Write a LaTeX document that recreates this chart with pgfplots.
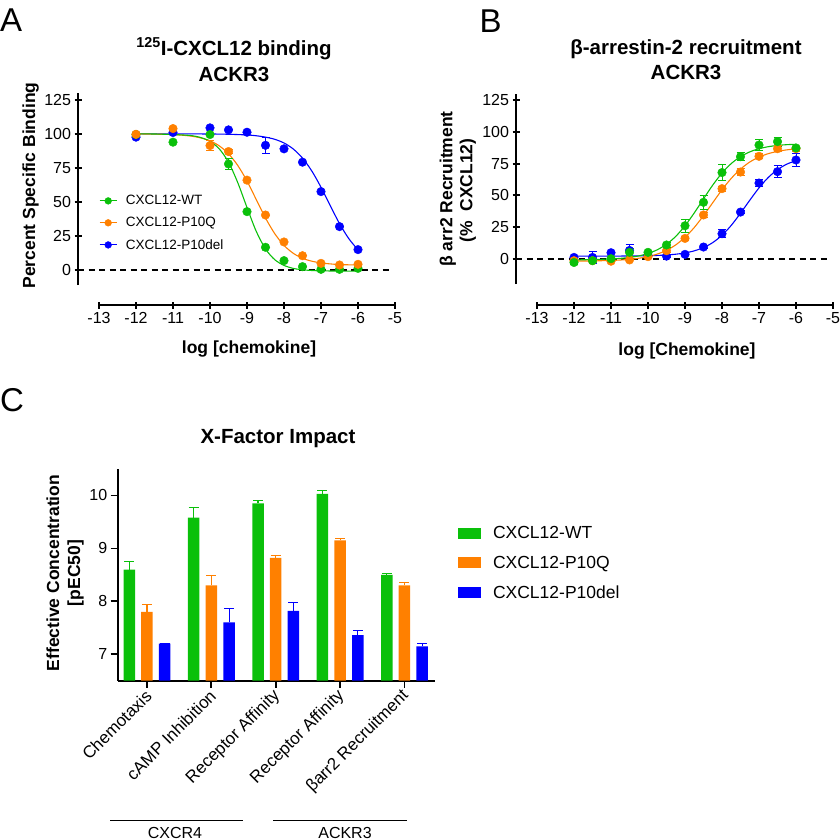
\documentclass[border=0pt]{standalone}
\usepackage{fontspec}
\setmainfont{Liberation Sans}
\usepackage{pgfplots}
\pgfplotsset{compat=1.18}
\definecolor{cgreen}{RGB}{10,192,10}
\definecolor{corange}{RGB}{255,128,0}
\definecolor{cblue}{RGB}{0,0,255}
\newcommand{\fs}[1]{\fontsize{#1}{#1}\selectfont}
\pgfplotsset{
  prism/.style={
    scale only axis, clip=false,
    every tick/.style={line width=1.8pt,black},
    tick align=outside, major tick length=7pt,
    tick label style={font=\fs{16}},
    /pgf/number format/assume math mode=true,
    minor tick num=0,
  },
  noarrow/.style={axis line style={line width=1.8pt,-}},
  curve/.style={no marks, smooth, line width=1.1pt, #1},
  pts/.style={only marks, mark=*, mark size=4.3pt, #1, mark options={fill=#1, draw=#1},
    error bars/.cd, y dir=both, y explicit,
    error bar style={line width=1pt, #1},
    error mark options={rotate=90, mark size=4pt, line width=1pt, #1}},
  lgA/.style={legend image code/.code={\draw[#1, line width=1pt] (0pt,0pt) -- (17pt,0pt);
      \fill[#1] (8.5pt,0pt) circle (3.4pt); \path (24pt,0pt);}},
}
\begin{document}
\begin{tikzpicture}[x=1pt,y=1pt]
\path[use as bounding box] (0,0) rectangle (840,-839);

% ---------------- Panel A ----------------
\node[font=\fs{33}, anchor=base west, inner sep=0pt] at (0,-31) {A};
\node[font=\bfseries\fs{20.5}, anchor=base] at (234,-55) {\textsuperscript{125}I-CXCL12 binding};
\node[font=\bfseries\fs{20.5}, anchor=base] at (234,-81) {ACKR3};
\node[font=\bfseries\fs{17.5}, anchor=base] at (249,-353) {log [chemokine]};
\node[font=\bfseries\fs{17.5}, anchor=base, rotate=90] at (35,-185.5) {Percent Specific Binding};

% x axis only
\begin{axis}[prism,
  at={(99pt,-305pt)}, anchor=south west,
  width=296pt, height=20pt,
  xmin=-13, xmax=-5, ymin=0, ymax=1,
  axis x line=bottom, axis y line=none,
  xtick={-13,-12,...,-5}, ytick=\empty, noarrow,
]
\end{axis}

\begin{axis}[prism,
  at={(78pt,-285pt)}, anchor=south west,
  width=317pt, height=192pt,
  xmin=-13.5676, xmax=-5, ymin=-11, ymax=130,
  axis x line=none, axis y line=left,
  ytick={0,25,...,125}, noarrow,
  legend style={at={(0.0662,0.478)}, anchor=north west, draw=none, fill=none,
    font=\fs{13.5}, row sep=7pt, inner sep=0pt},
  legend cell align=left,
]
\addlegendimage{lgA=cgreen}
\addlegendentry{CXCL12-WT}
\addlegendimage{lgA=corange}
\addlegendentry{CXCL12-P10Q}
\addlegendimage{lgA=cblue}
\addlegendentry{CXCL12-P10del}

\addplot[forget plot, black, line width=1.8pt, dash pattern=on 6pt off 4.5pt] coordinates {(-13.5676,0) (-5.1,0)};

% fitted curves
\addplot[forget plot, curve=cblue] coordinates {
(-12,100) (-11,100) (-10,99.9) (-9.5,99.7) (-9,99.2) (-8.75,98.6) (-8.5,97.6) (-8.25,96.0) (-8,93.3) (-7.75,88.9) (-7.5,82.2) (-7.25,72.8) (-7,60.8) (-6.75,47.3) (-6.5,34.1) (-6.25,23.1) (-6,14.8)};
\addplot[forget plot, curve=corange] coordinates {
(-12,100) (-11.5,99.8) (-11,99.5) (-10.75,99.0) (-10.5,98.3) (-10.25,97.0) (-10,94.9) (-9.75,91.2) (-9.5,85.4) (-9.25,76.8) (-9,65.4) (-8.75,51.75) (-8.5,38.2) (-8.25,26.7) (-8,18.1) (-7.75,12.3) (-7.5,8.6) (-7.25,6.5) (-7,5.2) (-6.75,4.5) (-6.5,4.0) (-6,3.7)};
\addplot[forget plot, curve=cgreen] coordinates {
(-12,100) (-11.5,99.9) (-11,99.5) (-10.75,99.2) (-10.5,98.7) (-10.25,97.3) (-10,94.5) (-9.75,89.0) (-9.5,79.2) (-9.25,64.2) (-9,45.9) (-8.75,28.4) (-8.5,15.5) (-8.25,7.6) (-8,3.4) (-7.75,1.2) (-7.5,0.2) (-7.25,-0.34) (-7,-0.6) (-6.5,-0.75) (-6,-0.8)};

% data points
\addplot[forget plot, pts=cblue] coordinates {
(-12,97.6) +- (0,0) (-11,101) +- (0,0) (-10,104.4) +- (0,0) (-9.5,102.9) +- (0,0) (-9,101.2) +- (0,0)
(-8.5,91.6) +- (0,6) (-8,89) +- (0,0) (-7.5,79.2) +- (0,0) (-7,57.6) +- (0,0) (-6.5,31.9) +- (0,0) (-6,15) +- (0,0)};
\addplot[forget plot, pts=cgreen] coordinates {
(-12,99.5) +- (0,0) (-11,93.9) +- (0,0) (-10,99.5) +- (0,0) (-9.5,77.9) +- (0,4) (-9,42.9) +- (0,0)
(-8.5,16.7) +- (0,0) (-8,6.9) +- (0,0) (-7.5,2.5) +- (0,0) (-7,0.5) +- (0,0) (-6.5,0.5) +- (0,0) (-6,1.2) +- (0,0)};
\addplot[forget plot, pts=corange] coordinates {
(-12,99.7) +- (0,0) (-11,103.9) +- (0,0) (-10,91.4) +- (0,3.5) (-9.5,87) +- (0,1.5) (-9,66) +- (0,0)
(-8.5,40.4) +- (0,0) (-8,20.6) +- (0,0) (-7.5,10.5) +- (0,0) (-7,4.9) +- (0,0) (-6.5,3.7) +- (0,0) (-6,4.2) +- (0,0)};
\end{axis}

% ---------------- Panel B ----------------
\node[font=\fs{33}, anchor=base west, inner sep=0pt] at (479.5,-32) {B};
\node[font=\bfseries\fs{20.5}, anchor=base] at (686,-54.3) {β-arrestin-2 recruitment};
\node[font=\bfseries\fs{20.5}, anchor=base] at (686,-79.3) {ACKR3};
\node[font=\bfseries\fs{17.5}, anchor=base] at (687,-355) {log [Chemokine]};
\node[font=\bfseries\fs{17.5}, anchor=base, rotate=90] at (452.3,-189) {β arr2 Recruitment};
\node[font=\bfseries\fs{17.5}, anchor=base, rotate=90] at (472.3,-190.5) {(\%\ \ CXCL12)};

\begin{axis}[prism,
  at={(537pt,-305pt)}, anchor=south west,
  width=296pt, height=20pt,
  xmin=-13, xmax=-5, ymin=0, ymax=1,
  axis x line=bottom, axis y line=none,
  xtick={-13,-12,...,-5}, ytick=\empty, noarrow,
]
\end{axis}

\begin{axis}[prism,
  at={(516pt,-284pt)}, anchor=south west,
  width=317pt, height=190pt,
  xmin=-13.5676, xmax=-5, ymin=-20, ymax=130,
  axis x line=none, axis y line=left,
  ytick={0,25,...,125}, noarrow,
]
\addplot[black, line width=1.8pt, dash pattern=on 6pt off 4.5pt] coordinates {(-13.5676,0) (-5.1,0)};

\addplot[curve=cblue] coordinates {
(-12,2.0) (-11,2.04) (-10.5,2.12) (-10,2.33) (-9.75,2.55) (-9.5,2.92) (-9.25,3.53) (-9,4.54) (-8.75,6.17) (-8.5,8.76) (-8.25,12.7) (-8,18.5) (-7.75,26.3) (-7.5,35.9) (-7.25,46.1) (-7,55.9) (-6.75,64.1) (-6.5,70.3) (-6.25,74.6) (-6,77.4)};
\addplot[curve=corange] coordinates {
(-12,-1.9) (-11.5,-1.76) (-11,-1.4) (-10.75,-1.06) (-10.5,-0.52) (-10.25,0.33) (-10,1.63) (-9.75,3.63) (-9.5,6.6) (-9.25,10.9) (-9,16.9) (-8.75,24.6) (-8.5,34.0) (-8.25,44.2) (-8,54.4) (-7.75,63.4) (-7.5,70.7) (-7.25,76.3) (-7,80.2) (-6.75,82.9) (-6.5,84.7) (-6.25,85.9) (-6,86.7)};
\addplot[curve=cgreen] coordinates {
(-12,-0.99) (-11.5,-0.7) (-11,-0.24) (-10.75,0.23) (-10.5,0.98) (-10.25,2.18) (-10,4.09) (-9.75,7.02) (-9.5,11.4) (-9.25,17.6) (-9,26.0) (-8.75,36.1) (-8.5,47.2) (-8.25,58.1) (-8,67.6) (-7.75,75.1) (-7.5,80.5) (-7.25,84.3) (-7,86.8) (-6.75,88.4) (-6.5,89.4) (-6.25,90.0) (-6,90.3)};

\addplot[pts=cblue] coordinates {
(-12,1) +- (0,1) (-11.5,1) +- (0,5) (-11,4.7) +- (0,1) (-10.5,6.5) +- (0,4.5) (-10,2.5) +- (0,1)
(-9.5,2) +- (0,1) (-9,3.4) +- (0,1) (-8.5,9.2) +- (0,1.5) (-8,19.7) +- (0,3) (-7.5,36.8) +- (0,1.5)
(-7,59.7) +- (0,3) (-6.5,68.7) +- (0,4.5) (-6,77.9) +- (0,5)};
\addplot[pts=corange] coordinates {
(-12,-1.6) +- (0,0) (-11.5,-1.6) +- (0,0) (-11,-2) +- (0,0) (-10.5,-1) +- (0,0) (-10,1.6) +- (0,0)
(-9.5,6.3) +- (0,1.5) (-9,16) +- (0,1.5) (-8.5,34.5) +- (0,2) (-8,55.3) +- (0,2) (-7.5,68.4) +- (0,3)
(-7,80.8) +- (0,2) (-6.5,86.8) +- (0,2.5) (-6,86.8) +- (0,2)};
\addplot[pts=cgreen] coordinates {
(-12,-3) +- (0,1.5) (-11.5,-1.6) +- (0,1.5) (-11,0) +- (0,1) (-10.5,5) +- (0,3) (-10,5) +- (0,1)
(-9.5,10.8) +- (0,2) (-9,26) +- (0,5) (-8.5,44.5) +- (0,5.5) (-8,68) +- (0,6) (-7.5,80.5) +- (0,3)
(-7,89.7) +- (0,4) (-6.5,92.4) +- (0,3.5) (-6,87.4) +- (0,1.5)};
\end{axis}

% ---------------- Panel C ----------------
\node[font=\fs{33}, anchor=base west, inner sep=0pt] at (0,-411) {C};
\node[font=\bfseries\fs{20.5}, anchor=base] at (278,-443.3) {X-Factor Impact};
\node[font=\bfseries\fs{17.5}, anchor=base, rotate=90] at (59,-573) {Effective Concentration};
\node[font=\bfseries\fs{17.5}, anchor=base, rotate=90] at (80,-573) {[pEC50]};

\begin{axis}[
  scale only axis,
  at={(117.7pt,-680.7pt)}, anchor=south west,
  width=317pt, height=211.7pt,
  xmin=-0.455, xmax=4.47, ymin=6.5, ymax=10.5,
  axis x line=bottom, axis y line=left,
  axis line style={line width=1.8pt,-},
  every tick/.style={line width=1.8pt,black},
  tick align=outside, major tick length=7pt,
  tick label style={font=\fs{16}},
  /pgf/number format/assume math mode=true,
  ytick={7,8,9,10}, xtick={0,1,2,3,4},
  xticklabels={Chemotaxis, cAMP Inhibition, Receptor Affinity, Receptor Affinity, βarr2 Recruitment},
  xticklabel style={xshift=4pt, yshift=-3pt, rotate=45, anchor=east, font=\fs{17}},
  ybar=6.2pt, bar width=11.5pt,
  legend style={at={(1.073,0.74)}, anchor=north west, draw=none, fill=none,
    font=\fs{17.5}, row sep=12pt, inner sep=0pt},
  legend cell align=left,
  legend image code/.code={\fill[#1] (0pt,-5.5pt) rectangle (23pt,5.5pt); \path (33pt,0pt);},
  error bars/y dir=plus, error bars/y explicit,
]
\addplot[fill=cgreen, draw=none, error bars/.cd, error bar style={line width=1.1pt, cgreen}, error mark options={rotate=90, mark size=5pt, line width=1.1pt, cgreen}]
 coordinates {(0,8.6) +- (0,0.15) (1,9.58) +- (0,0.2) (2,9.85) +- (0,0.06) (3,10.03) +- (0,0.07) (4,8.5) +- (0,0.03)};
\addplot[fill=corange, draw=none, error bars/.cd, error bar style={line width=1.1pt, corange}, error mark options={rotate=90, mark size=5pt, line width=1.1pt, corange}]
 coordinates {(0,7.8) +- (0,0.14) (1,8.3) +- (0,0.19) (2,8.82) +- (0,0.05) (3,9.15) +- (0,0.03) (4,8.3) +- (0,0.05)};
\addplot[fill=cblue, draw=none, error bars/.cd, error bar style={line width=1.1pt, cblue}, error mark options={rotate=90, mark size=5pt, line width=1.1pt, cblue}]
 coordinates {(0,7.2) +- (0,0) (1,7.6) +- (0,0.26) (2,7.82) +- (0,0.15) (3,7.36) +- (0,0.09) (4,7.15) +- (0,0.05)};
\legend{CXCL12-WT, CXCL12-P10Q, CXCL12-P10del}
\end{axis}

\draw[line width=1pt] (110,-820) -- (243,-820);
\draw[line width=1pt] (273,-820) -- (407,-820);
\node[font=\fs{16}, anchor=base] at (175,-838) {CXCR4};
\node[font=\fs{16}, anchor=base] at (345,-838) {ACKR3};
\end{tikzpicture}
\end{document}
